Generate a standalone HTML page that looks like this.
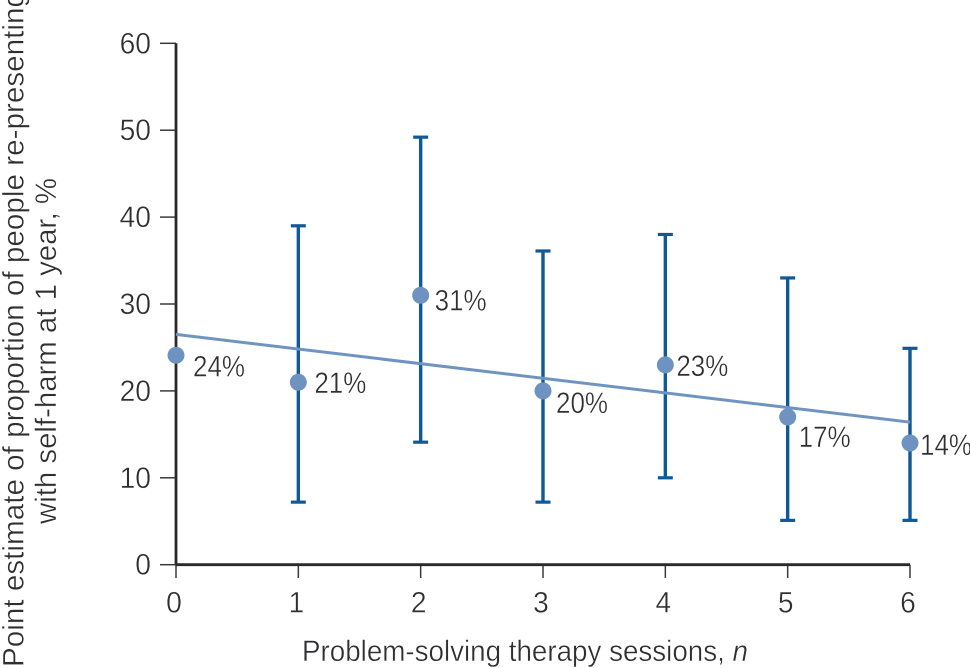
<!DOCTYPE html>
<html lang="en">
<head>
<meta charset="utf-8">
<title>Point estimate of re-presentation by therapy sessions</title>
<style>
html,body{margin:0;padding:0;background:#fff;width:970px;height:668px;overflow:hidden}
svg{display:block}
text{font-family:"Liberation Sans",sans-serif;fill:#2f2e30;stroke:#fff;stroke-width:.4px}
</style>
</head>
<body>
<svg id="chart" width="970" height="668" viewBox="0 0 970 668" xmlns="http://www.w3.org/2000/svg">
  <text transform="translate(23.5,667) rotate(-90)" font-size="29.5" textLength="676" lengthAdjust="spacingAndGlyphs">Point estimate of proportion of people re-presenting</text>
  <text transform="translate(56,524) rotate(-90)" font-size="29.5" textLength="346" lengthAdjust="spacingAndGlyphs">with self-harm at 1 year, %</text>
  <text x="302" y="661" font-size="29.5" textLength="446" lengthAdjust="spacingAndGlyphs">Problem-solving therapy sessions, <tspan font-style="italic">n</tspan></text>
</svg>
<script>
const sessions = [0, 1, 2, 3, 4, 5, 6];
const estimates = [24.1, 21, 31, 20, 23, 17, 14];
const lowerBounds = [null, 7.2, 14.1, 7.2, 10, 5.1, 5.1];
const upperBounds = [null, 39, 49.2, 36.1, 38, 33, 24.9];
const pointLabels = ['24%', '21%', '31%', '20%', '23%', '17%', '14%'];
const yTicks = [0, 10, 20, 30, 40, 50, 60];
const xTicks = [0, 1, 2, 3, 4, 5, 6];
const trendStart = 26.5;
const trendEnd = 16.4;
const labelOffsetX = [17, 16, 14, 13, 11, 11, 10];
const labelOffsetY = [21, 11, 15, 22, 11, 30, 12];

const svg = document.getElementById('chart');
const NS = 'http://www.w3.org/2000/svg';
const xScale = v => 176 + (v - 0) * (910 - 176) / 6;
const yScale = v => 564.7 - (v - 0) * (564.7 - 43.3) / 60;

function make(tag, attrs, text) {
  const el = document.createElementNS(NS, tag);
  for (const k in attrs) el.setAttribute(k, attrs[k]);
  if (text !== undefined) el.textContent = text;
  svg.appendChild(el);
  return el;
}

yTicks.forEach(t => {
  const tick = make('line', {x1: 160, x2: 176, y1: yScale(t), y2: yScale(t), stroke: '#3a3a3c', 'stroke-width': 1.5});
  
  
  const label = make('text', {x: 151, y: yScale(t) + 10, 'font-size': 29.5, 'text-anchor': 'end', textLength: String(t).length * 15.7, lengthAdjust: 'spacingAndGlyphs'}, t);
  
  
});

xTicks.forEach(t => {
  const tick = make('line', {x1: xScale(t), x2: xScale(t), y1: 564.7, y2: 578, stroke: '#3a3a3c', 'stroke-width': 1.5});
  
  
  const label = make('text', {x: xScale(t) - 2, y: 612.5, 'font-size': 29.5, 'text-anchor': 'middle', textLength: 15.7, lengthAdjust: 'spacingAndGlyphs'}, t);
  
  
});

const yAxis = make('line', {x1: 176, x2: 176, y1: yScale(60), y2: yScale(0), stroke: '#2b2a2b', 'stroke-width': 2.8});


const xAxis = make('line', {x1: xScale(0), x2: xScale(6), y1: yScale(0), y2: yScale(0), stroke: '#2b2a2b', 'stroke-width': 2.8});



sessions.forEach((s, i) => {
  if (lowerBounds[i] === null) return;
  const cx = xScale(s);
  const stem = make('line', {x1: cx, x2: cx, y1: yScale(upperBounds[i]), y2: yScale(lowerBounds[i]), stroke: '#0f5a96', 'stroke-width': 3.4});
  
  
  const top = make('line', {x1: cx - 7.5, x2: cx + 7.5, y1: yScale(upperBounds[i]), y2: yScale(upperBounds[i]), stroke: '#0f5a96', 'stroke-width': 3.2});
  
  
  const bottom = make('line', {x1: cx - 7.5, x2: cx + 7.5, y1: yScale(lowerBounds[i]), y2: yScale(lowerBounds[i]), stroke: '#0f5a96', 'stroke-width': 3.2});
  
  
});

const trend = make('line', {x1: xScale(sessions[0]), x2: xScale(sessions[sessions.length - 1]), y1: yScale(trendStart), y2: yScale(trendEnd), stroke: '#7094c1', 'stroke-width': 3});



sessions.forEach((s, i) => {
  const dot = make('circle', {cx: xScale(s), cy: yScale(estimates[i]), r: 8.5, fill: '#6f93c0'});
  
  
  const label = make('text', {x: xScale(s) + labelOffsetX[i], y: yScale(estimates[i]) + labelOffsetY[i], 'font-size': 29.5, textLength: 52, lengthAdjust: 'spacingAndGlyphs'}, pointLabels[i]);
  
  
});
</script>
</body>
</html>
